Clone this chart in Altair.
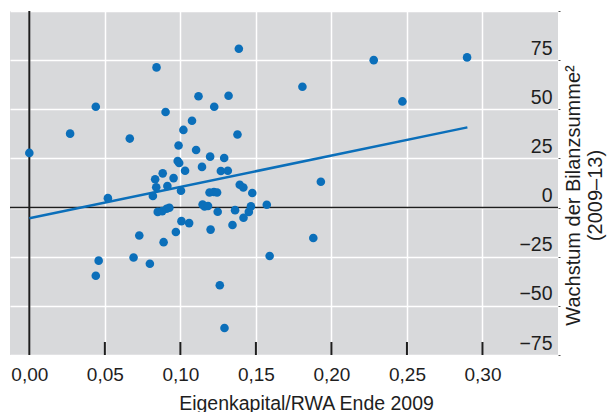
import altair as alt
import pandas as pd

# ---- data ----
x_vals = [0.000, 0.027, 0.044, 0.0665, 0.052, 0.0842, 0.0902, 0.1387, 0.228, 0.2898,
          0.1808, 0.247, 0.112, 0.1319, 0.1224, 0.1077, 0.102, 0.1378, 0.0988, 0.1104,
          0.1197, 0.129, 0.0982, 0.0992, 0.1143, 0.1031, 0.1268, 0.1314, 0.0883, 0.0955,
          0.0833, 0.0914, 0.0840, 0.1004, 0.0818, 0.193, 0.1393, 0.1417, 0.1476, 0.1193,
          0.1222, 0.1243, 0.1147, 0.1160, 0.1183, 0.1572, 0.1467, 0.1362, 0.1247, 0.1453,
          0.1418, 0.0850, 0.0880, 0.0909, 0.0927, 0.1007, 0.1058, 0.1345, 0.1200, 0.0970,
          0.0728, 0.0889, 0.1880, 0.1591, 0.0690, 0.0459, 0.0798, 0.0440, 0.1261, 0.1292]
y_vals = [27.8, 37.6, 51.3, 35.1, 4.8, 71.3, 48.6, 80.8, 75.0, 76.4,
          61.5, 54.0, 56.6, 56.9, 51.3, 44.2, 39.5, 37.2, 31.6, 29.3,
          25.9, 25.2, 23.7, 22.7, 20.7, 18.7, 18.6, 18.7, 17.4, 15.0,
          14.4, 11.0, 10.3, 8.6, 5.9, 13.1, 11.6, 10.2, 7.4, 7.7,
          7.9, 7.7, 1.5, 0.6, 0.8, 1.4, 0.6, -1.3, -2.1, -2.2,
          -5.2, -2.2, -1.8, -0.6, -0.1, -6.9, -7.9, -8.9, -11.2, -12.4,
          -14.2, -17.6, -15.5, -24.6, -25.4, -27.0, -28.6, -34.7, -39.5, -61.3]

reg_x = [0.0, 0.29]
reg_y = [-5.4, 40.8]

x_label_values = [0.0, 0.05, 0.10, 0.15, 0.20, 0.25, 0.30]
x_tick_marks = [0.05, 0.10, 0.15, 0.20, 0.25, 0.30]
y_values = [-75, -50, -25, 0, 25, 50, 75, 100]

BLUE = "#0b6fba"
GRAY = "#d8d9db"
DARK = "#1e1e1e"
FONT = "Liberation Sans"
W, H = 548, 344

xscale = alt.Scale(domain=[-0.0128, 0.35], nice=False, zero=False)
yscale = alt.Scale(domain=[-75, 100], nice=False, zero=False)

x_axis = alt.Axis(
    values=x_label_values, grid=True, gridColor="white", gridWidth=1.5,
    domain=False, ticks=False, labelFlush=False,
    labelExpr="replace(format(datum.value, '.2f'), '.', ',')",
    labelFont=FONT, labelFontSize=19, labelColor=DARK,
    labelBaseline="alphabetic", labelPadding=25,
    title="Eigenkapital/RWA Ende 2009", titleFont=FONT, titleFontSize=19.5,
    titleFontWeight="normal", titleColor=DARK, titleX=296, titleY=54,
    titleAlign="center", titleBaseline="alphabetic")
y_axis = alt.Axis(
    orient="right", values=y_values, grid=True, gridColor="white", gridWidth=1.5,
    domain=False, ticks=True, tickSize=2, tickColor="#555555", tickWidth=1,
    labelFlush=False,
    labelExpr="datum.value == 100 ? '' : replace(format(datum.value, 'd'), '-', '\u2013')",
    labelFont=FONT, labelFontSize=19.5, labelColor=DARK,
    labelAlign="right", labelPadding=-8, labelBaseline="alphabetic", labelOffset=-6,
    title=["Wachstum der Bilanzsumme\u00b2", "(2009\u201313)"], titleFont=FONT,
    titleFontSize=20, titleFontWeight="normal", titleColor=DARK,
    titleAngle=270, titleX=5, titleY=184, titleAlign="center",
    titleBaseline="top", titleLineHeight=22)

points = pd.DataFrame({"x": x_vals, "y": y_vals})
reg = pd.DataFrame({"x": reg_x, "y": reg_y})
ticks = pd.DataFrame({"x": x_tick_marks})

hline = alt.Chart(pd.DataFrame({"y": [0.0]})).mark_rule(color=DARK, strokeWidth=1.5).encode(
    y=alt.Y("y:Q", scale=yscale, axis=y_axis))
vline = alt.Chart(pd.DataFrame({"x": [0.0]})).mark_rule(color=DARK, strokeWidth=2).encode(
    x=alt.X("x:Q", scale=xscale, axis=x_axis))
xticks = alt.Chart(ticks).mark_rule(color=DARK, strokeWidth=2).encode(
    x=alt.X("x:Q", scale=xscale, axis=x_axis),
    y=alt.value(H), y2=alt.value(H - 13))
regline = alt.Chart(reg).mark_line(color=BLUE, strokeWidth=2.5).encode(
    x=alt.X("x:Q", scale=xscale, axis=x_axis),
    y=alt.Y("y:Q", scale=yscale, axis=y_axis))
pts = alt.Chart(points).mark_circle(size=74, opacity=1, color=BLUE).encode(
    x=alt.X("x:Q", scale=xscale, axis=x_axis),
    y=alt.Y("y:Q", scale=yscale, axis=y_axis))

chart = alt.layer(hline, vline, xticks, regline, pts).properties(
    width=W, height=H,
    padding={"left": 10, "top": 11, "right": 49, "bottom": 57},
    autosize=alt.AutoSizeParams(type="none"),
    background="white",
).configure_view(fill=GRAY, strokeWidth=0)

chart.save("out.html", embed_options={"renderer": "svg", "actions": False})
